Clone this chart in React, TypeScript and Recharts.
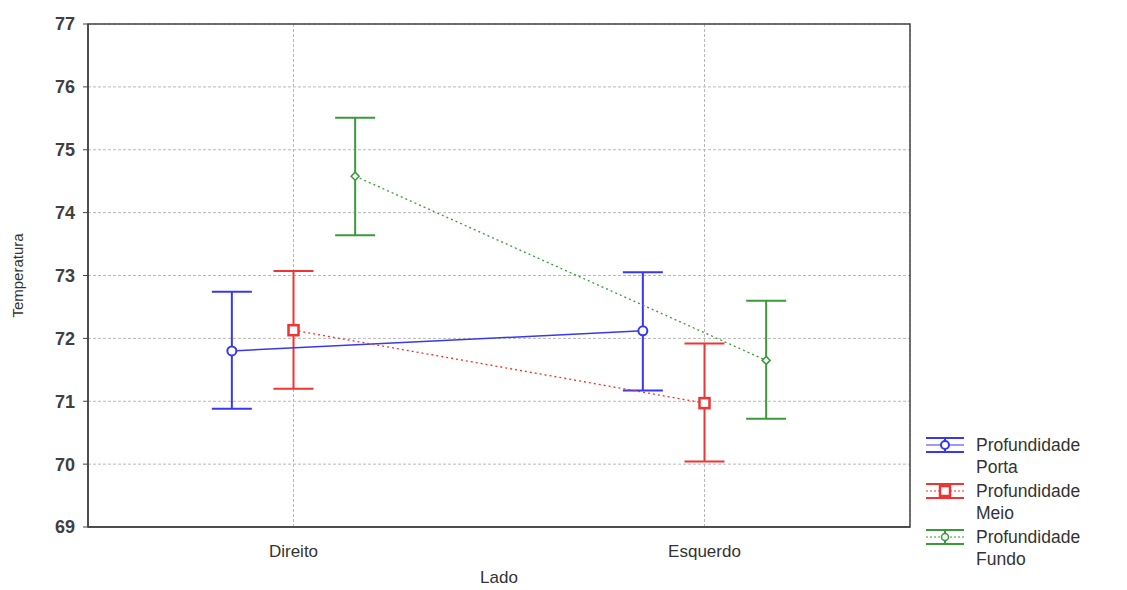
import React from 'react';
import {
  ComposedChart, Scatter, XAxis, YAxis, CartesianGrid, ErrorBar, ReferenceArea, Label,
} from 'recharts';

const categories = ['Direito', 'Esquerdo'];
const yTicks = [69, 70, 71, 72, 73, 74, 75, 76, 77];
const seriesNames = ['Profundidade Porta', 'Profundidade Meio', 'Profundidade Fundo'];
const legendLines = [['Profundidade', 'Porta'], ['Profundidade', 'Meio'], ['Profundidade', 'Fundo']];
const seriesOffsets = [-0.15, 0, 0.15];
const seriesColors = ['#3838f0', '#f03434', '#3a9a3a'];

const portaMean = [71.8, 72.12];
const portaLow = [70.88, 71.17];
const portaHigh = [72.74, 73.05];

const meioMean = [72.13, 70.97];
const meioLow = [71.2, 70.04];
const meioHigh = [73.07, 71.92];

const fundoMean = [74.58, 71.65];
const fundoLow = [73.64, 70.72];
const fundoHigh = [75.51, 72.6];

const build = (mean: number[], low: number[], high: number[], off: number) =>
  mean.map((m, i) => ({ x: i + off, y: m, err: [m - low[i], high[i] - m] }));

const portaData = build(portaMean, portaLow, portaHigh, seriesOffsets[0]);
const meioData = build(meioMean, meioLow, meioHigh, seriesOffsets[1]);
const fundoData = build(fundoMean, fundoLow, fundoHigh, seriesOffsets[2]);

const FONT = 'Liberation Sans, Arial, sans-serif';

const CircleShape = (props: any) => (
  <circle cx={props.cx} cy={props.cy} r={4.5} fill="#fff" stroke={seriesColors[0]} strokeWidth={2} />
);
const SquareShape = (props: any) => (
  <rect x={props.cx - 5} y={props.cy - 5} width={10} height={10} fill="#fff" stroke={seriesColors[1]} strokeWidth={2.5} />
);
const SmallShape = (props: any) => (
  <path d={`M${props.cx - 4},${props.cy} L${props.cx},${props.cy - 4} L${props.cx + 4},${props.cy} L${props.cx},${props.cy + 4} Z`} fill="#fff" stroke={seriesColors[2]} strokeWidth={1.5} />
);

const LegendBox = () => {
  const dashes = [undefined, '2 2', '2 2'];
  return (
    <svg width={205} height={150} style={{ position: 'absolute', left: 922, top: 430, overflow: 'visible' }}>
      {legendLines.map((name, i) => {
        const cy = 15 + i * 46;
        const c = seriesColors[i];
        return (
          <g key={i}>
            <line x1={4} x2={42} y1={cy - 7} y2={cy - 7} stroke={c} strokeWidth={2} />
            <line x1={4} x2={42} y1={cy + 7} y2={cy + 7} stroke={c} strokeWidth={2} />
            <line x1={23} x2={23} y1={cy - 7} y2={cy + 7} stroke={c} strokeWidth={2} />
            <line x1={4} x2={42} y1={cy} y2={cy} stroke={c} strokeWidth={1.2} strokeDasharray={dashes[i]} />
            {i === 0 && <circle cx={23} cy={cy} r={4} fill="#fff" stroke={c} strokeWidth={2} />}
            {i === 1 && <rect x={18} y={cy - 5} width={10} height={10} fill="#fff" stroke={c} strokeWidth={2.5} />}
            {i === 2 && <circle cx={23} cy={cy} r={3.5} fill="#fff" stroke={c} strokeWidth={1.5} />}
            <text x={54} y={cy + 6} fontSize={17.5} fill="#333" fontFamily={FONT}>{name[0]}</text>
            <text x={54} y={cy + 28} fontSize={17.5} fill="#333" fontFamily={FONT}>{name[1]}</text>
          </g>
        );
      })}
    </svg>
  );
};

export default function App() {
  return (
    <div style={{ position: 'absolute', left: 0, top: 0, width: 1127, height: 590, background: '#fff' }}>
      <ComposedChart
        width={1127}
        height={590}
        margin={{ top: 24, right: 217, bottom: 0, left: 0 }}
        style={{ fontFamily: FONT }}
      >
        <CartesianGrid stroke="#b8b8b8" strokeDasharray="3 2" />
        <XAxis
          type="number"
          dataKey="x"
          domain={[-0.5, 1.5]}
          ticks={[0, 1]}
          tickFormatter={(v: number) => categories[v]}
          height={63}
          axisLine={{ stroke: '#444', strokeWidth: 1.5 }}
          tickLine={false}
          tick={{ fontSize: 17, fill: '#333' }}
          tickMargin={12}
          allowDataOverflow
        >
          <Label value="Lado" position="insideBottom" offset={7} style={{ fontSize: 17, fill: '#333' }} />
        </XAxis>
        <YAxis
          type="number"
          dataKey="y"
          domain={[69, 77]}
          ticks={yTicks}
          width={88}
          axisLine={{ stroke: '#444', strokeWidth: 1.5 }}
          tickLine={{ stroke: '#444' }}
          tickSize={5}
          tickMargin={8}
          tick={{ fontSize: 18, fill: '#404040', fontWeight: 'bold' }}
          allowDataOverflow
        >
          <Label value="Temperatura" angle={-90} position="insideLeft" offset={18} style={{ fontSize: 15, fill: '#333', textAnchor: 'middle' }} />
        </YAxis>
        <ReferenceArea x1={-0.5} x2={1.5} y1={69} y2={77} fill="none" stroke="#444" strokeWidth={1.5} />
        <Scatter
          name={seriesNames[0]}
          data={portaData}
          line={{ stroke: seriesColors[0], strokeWidth: 1.5 }}
          shape={CircleShape}
          isAnimationActive={false}
        >
          <ErrorBar dataKey="err" direction="y" width={20} stroke={seriesColors[0]} strokeWidth={2} isAnimationActive={false} />
        </Scatter>
        <Scatter
          name={seriesNames[1]}
          data={meioData}
          line={{ stroke: seriesColors[1], strokeWidth: 1.3, strokeDasharray: '2 3' }}
          shape={SquareShape}
          isAnimationActive={false}
        >
          <ErrorBar dataKey="err" direction="y" width={20} stroke={seriesColors[1]} strokeWidth={2} isAnimationActive={false} />
        </Scatter>
        <Scatter
          name={seriesNames[2]}
          data={fundoData}
          line={{ stroke: seriesColors[2], strokeWidth: 1.3, strokeDasharray: '2 3' }}
          shape={SmallShape}
          isAnimationActive={false}
        >
          <ErrorBar dataKey="err" direction="y" width={20} stroke={seriesColors[2]} strokeWidth={2} isAnimationActive={false} />
        </Scatter>
      </ComposedChart>
      <LegendBox />
    </div>
  );
}
